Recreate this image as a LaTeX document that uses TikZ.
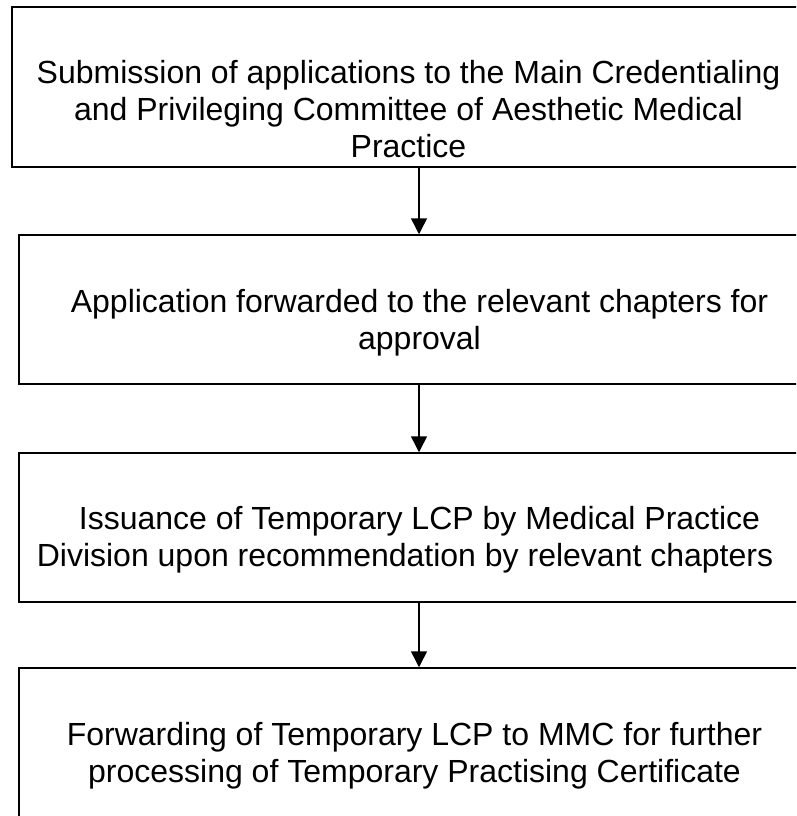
\documentclass[tikz,border=0pt]{standalone}
\usepackage{fontspec}
\setmainfont{Liberation Sans}
\usetikzlibrary{arrows.meta}
\begin{document}
\begin{tikzpicture}[x=1pt,y=-1pt,
  box/.style={draw=black, line width=1.5pt, minimum width=800pt, inner sep=0pt},
  txt/.style={font=\fontsize{32}{37}\selectfont, align=center, inner sep=0pt, anchor=base},
  arr/.style={line width=1.5pt, -{Triangle[length=16pt,width=16pt]}}]
\useasboundingbox (0,0) rectangle (796,816);
\clip (0,0) rectangle (796,816);
\node[box, minimum height=160pt] (b1) at (412,87) {};
\node[box, minimum height=149pt] (b2) at (419,309.5) {};
\node[box, minimum height=149pt] (b3) at (419,527.5) {};
\node[box, minimum height=160pt] (b4) at (419,748) {};
\node[txt] (t1) at (408.5,157) {Submission of applications to the Main Credentialing\\and Privileging Committee of Aesthetic Medical\\Practice};
\node[txt] (t2) at (419.5,349) {Application forwarded to the relevant chapters for\\approval};
\node[txt] (t3) at (405,566) {\hspace*{29pt}Issuance of Temporary LCP by Medical Practice\\Division upon recommendation by relevant chapters};
\node[txt] (t4) at (414.5,782) {Forwarding of Temporary LCP to MMC for further\\processing of Temporary Practising Certificate};
\draw[arr] (b1.south -| b2.north) -- (b2.north);
\draw[arr] (b2.south) -- (b3.north);
\draw[arr] (b3.south) -- (b4.north);
\end{tikzpicture}
\end{document}
